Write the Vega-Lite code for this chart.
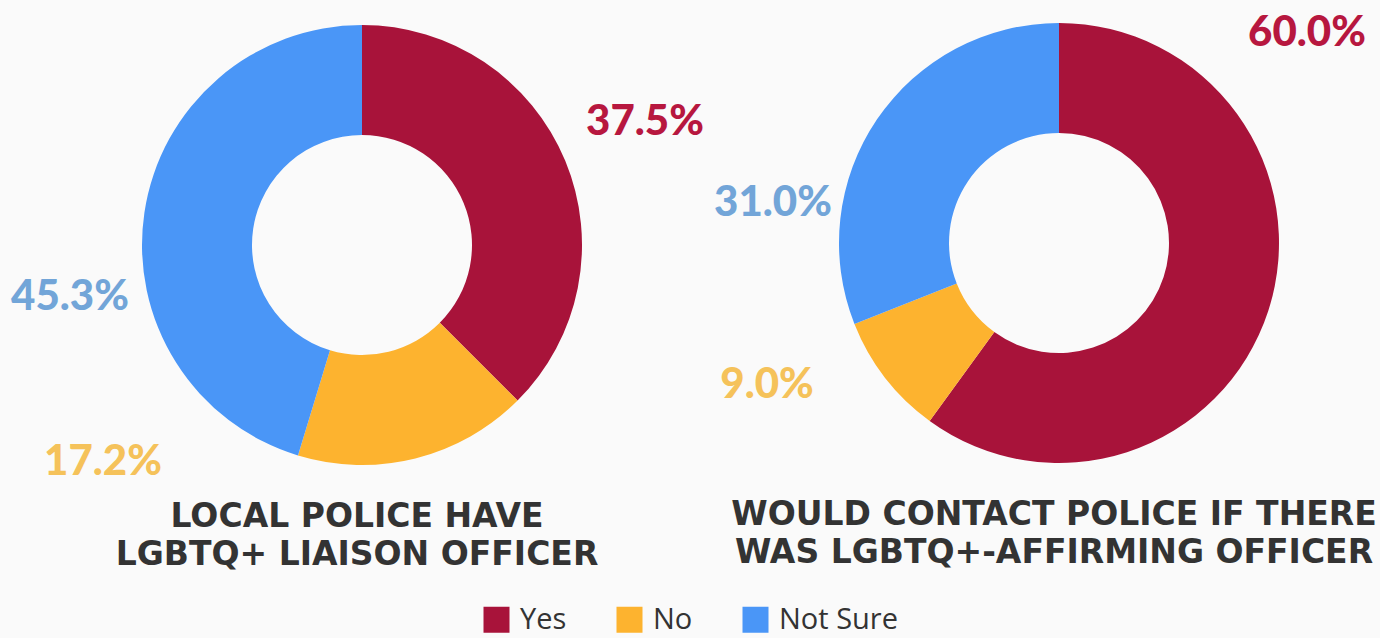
{
  "$schema": "https://vega.github.io/schema/vega-lite/v6.json",
  "width": 1380,
  "height": 638,
  "autosize": {"type": "fit", "contains": "padding"},
  "padding": 0,
  "background": "#FAFAFA",
  "config": {"view": {"stroke": null}},
  "datasets": {
    "answers": [
      {"chart": "Liaison officer", "answer": "Yes", "share": 0.375},
      {"chart": "Liaison officer", "answer": "No", "share": 0.172},
      {"chart": "Liaison officer", "answer": "Not Sure", "share": 0.453},
      {"chart": "Affirming officer", "answer": "Yes", "share": 0.600},
      {"chart": "Affirming officer", "answer": "No", "share": 0.090},
      {"chart": "Affirming officer", "answer": "Not Sure", "share": 0.310}
    ],
    "titles": [
      {"chart": "Liaison officer", "title": ["LOCAL POLICE HAVE", "LGBTQ+ LIAISON OFFICER"]},
      {"chart": "Affirming officer", "title": ["WOULD CONTACT POLICE IF THERE", "WAS LGBTQ+-AFFIRMING OFFICER"]}
    ]
  },
  "encoding": {
    "x": {"field": "chart", "type": "nominal", "scale": {"type": "point", "padding": 0, "domain": ["Liaison officer", "Affirming officer"], "range": [362, 1059]}, "axis": null},
    "y": {"field": "chart", "type": "nominal", "scale": {"type": "point", "padding": 0, "domain": ["Liaison officer", "Affirming officer"], "range": [245, 243]}, "axis": null}
  },
  "layer": [
    {
      "data": {"name": "answers"},
      "transform": [
        {"calculate": "indexof(['Yes','No','Not Sure'], datum.answer)", "as": "rank"},
        {"stack": "share", "groupby": ["chart"], "sort": [{"field": "rank", "order": "ascending"}], "as": ["s0", "s1"]}
      ],
      "mark": {"type": "arc", "innerRadius": 110, "outerRadius": 220},
      "encoding": {
        "theta": {"field": "s0", "type": "quantitative", "scale": {"domain": [0, 1]}},
        "theta2": {"field": "s1"},
        "fill": {
          "field": "answer", "type": "nominal",
          "scale": {"domain": ["Yes", "No", "Not Sure"], "range": ["#A8133A", "#FDB32F", "#4A96F7"]},
          "legend": {
            "orient": "none", "legendX": 482, "legendY": 605, "direction": "horizontal", "title": null,
            "symbolType": "square", "symbolSize": 676, "symbolStrokeWidth": 0, "symbolOpacity": 1,
            "labelFont": "Open Sans", "labelFontSize": 29, "labelColor": "#333333",
            "labelOffset": 9, "columnPadding": 48
          }
        }
      }
    },
    {
      "data": {"name": "answers"},
      "encoding": {
        "text": {"field": "share", "type": "quantitative", "format": ".1%"},
        "color": {
          "field": "answer", "type": "nominal",
          "scale": {"domain": ["Yes", "No", "Not Sure"], "range": ["#B7173F", "#F5C25A", "#72A5D8"]},
          "legend": null
        }
      },
      "layer": [
        {"transform": [{"filter": "datum.chart == 'Liaison officer' && datum.answer == 'Yes'"}],
         "mark": {"type": "text", "font": "Lato", "fontWeight": 900, "fontSize": 42, "align": "center", "baseline": "middle", "dx": 283, "dy": -123}},
        {"transform": [{"filter": "datum.chart == 'Liaison officer' && datum.answer == 'No'"}],
         "mark": {"type": "text", "font": "Lato", "fontWeight": 900, "fontSize": 42, "align": "center", "baseline": "middle", "dx": -259, "dy": 217}},
        {"transform": [{"filter": "datum.chart == 'Liaison officer' && datum.answer == 'Not Sure'"}],
         "mark": {"type": "text", "font": "Lato", "fontWeight": 900, "fontSize": 42, "align": "center", "baseline": "middle", "dx": -292, "dy": 52}},
        {"transform": [{"filter": "datum.chart == 'Affirming officer' && datum.answer == 'Yes'"}],
         "mark": {"type": "text", "font": "Lato", "fontWeight": 900, "fontSize": 42, "align": "center", "baseline": "middle", "dx": 248, "dy": -210}},
        {"transform": [{"filter": "datum.chart == 'Affirming officer' && datum.answer == 'No'"}],
         "mark": {"type": "text", "font": "Lato", "fontWeight": 900, "fontSize": 42, "align": "center", "baseline": "middle", "dx": -292, "dy": 142}},
        {"transform": [{"filter": "datum.chart == 'Affirming officer' && datum.answer == 'Not Sure'"}],
         "mark": {"type": "text", "font": "Lato", "fontWeight": 900, "fontSize": 42, "align": "center", "baseline": "middle", "dx": -286, "dy": -40}}
      ]
    },
    {
      "data": {"name": "titles"},
      "mark": {"type": "text", "font": "DejaVu Sans", "fontWeight": "bold", "fontSize": 33, "lineHeight": 38, "align": "center", "baseline": "alphabetic", "color": "#333333", "dx": -5, "dy": 282},
      "encoding": {
        "text": {"field": "title"}
      }
    }
  ]
}
